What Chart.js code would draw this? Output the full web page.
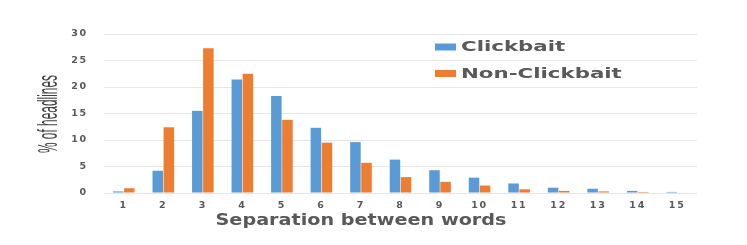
<!DOCTYPE html>
<html>
<head>
<meta charset="utf-8">
<script src="https://cdn.jsdelivr.net/npm/chart.js@4"></script>
<style>
  body { margin: 0; background: #fff; }
  #wrap { width: 747px; height: 245px; }
</style>
</head>
<body>
<div id="wrap"><canvas id="sepChart"></canvas></div>
<script>
let separations = ["1", "2", "3", "4", "5", "6", "7", "8", "9", "10", "11", "12", "13", "14", "15"];
let clickbait = [0.3, 4.2, 15.5, 21.4, 18.3, 12.3, 9.6, 6.3, 4.3, 2.9, 1.8, 1.0, 0.8, 0.4, 0.2];
let nonClickbait = [0.9, 12.4, 27.3, 22.5, 13.8, 9.5, 5.7, 3.0, 2.1, 1.4, 0.7, 0.4, 0.3, 0.2, 0.1];
let yTicks = [0, 5, 10, 15, 20, 25, 30];

let textPlugin = {
  id: "texts",
  beforeDraw(chart) {
    chart.ctx.letterSpacing = "1.8px";
  },
  afterDraw(chart) {
    let ctx = chart.ctx;
    ctx.save();
    ctx.letterSpacing = "0px";
    ctx.fillStyle = "#404040";

    // y axis title, tall and narrow
    ctx.save();
    ctx.translate(57, 114);
    ctx.rotate(-Math.PI / 2);
    ctx.scale(0.85, 1.96);
    ctx.font = "14px 'Liberation Sans'";
    ctx.textAlign = "center";
    ctx.textBaseline = "alphabetic";
    ctx.fillText("% of headlines", 0, 0);
    ctx.restore();

    // x axis title
    ctx.save();
    ctx.translate(361, 225);
    ctx.scale(1.2, 1);
    ctx.font = "bold 16px 'DejaVu Sans'";
    ctx.fillStyle = "#595959";
    ctx.textAlign = "center";
    ctx.textBaseline = "alphabetic";
    ctx.fillText("Separation between words", 0, 0);
    ctx.restore();

    // legend
    let rows = [47, 73.5];
    chart.data.datasets.forEach((ds, i) => {
      ctx.fillStyle = ds.backgroundColor;
      ctx.fillRect(435, rows[i] - 3.5, 21, 7);
      ctx.save();
      ctx.translate(461, rows[i] + 4);
      ctx.scale(1.58, 1);
      ctx.font = "bold 13.5px 'DejaVu Sans'";
      ctx.fillStyle = "#595959";
      ctx.textAlign = "left";
      ctx.textBaseline = "alphabetic";
      ctx.fillText(ds.label, 0, 0);
      ctx.restore();
    });
    ctx.restore();
  }
};

let canvasElement = document.getElementById("sepChart");
let config = {
  type: "bar",
  data: {
    labels: separations,
    datasets: [
      {
        label: "Clickbait",
        data: clickbait,
        backgroundColor: "#5B9BD5",
        barPercentage: 0.95,
        categoryPercentage: 0.56,
      },
      {
        label: "Non-Clickbait",
        data: nonClickbait,
        backgroundColor: "#ED7D31",
        barPercentage: 0.95,
        categoryPercentage: 0.56,
      },
    ],
  },
  options: {
    responsive: true,
    maintainAspectRatio: false,
    animation: false,
    layout: { padding: { left: 0, right: 50, top: 34, bottom: 0 } },
    plugins: {
      legend: { display: false },
      tooltip: { enabled: false },
    },
    scales: {
      x: {
        grid: { display: false, drawTicks: false },
        border: { display: false },
        ticks: {
          color: "#595959",
          font: { family: "DejaVu Sans", size: 9.5, weight: "bold" },
          padding: 7,
          maxRotation: 0,
        },
        afterFit(scale) { scale.height = 52; },
      },
      y: {
        min: 0,
        max: 30,
        border: { display: false },
        grid: { color: "#e6e6e6", drawTicks: false },
        ticks: {
          color: "#595959",
          font: { family: "DejaVu Sans", size: 9.5, weight: "bold" },
          padding: 16,
        },
        afterBuildTicks(scale) { scale.ticks = yTicks.map(v => ({ value: v })); },
        afterFit(scale) { scale.width = 104; },
      },
    },
  },
  plugins: [textPlugin],
};
let sepChart = new Chart(canvasElement, config);
</script>
</body>
</html>
